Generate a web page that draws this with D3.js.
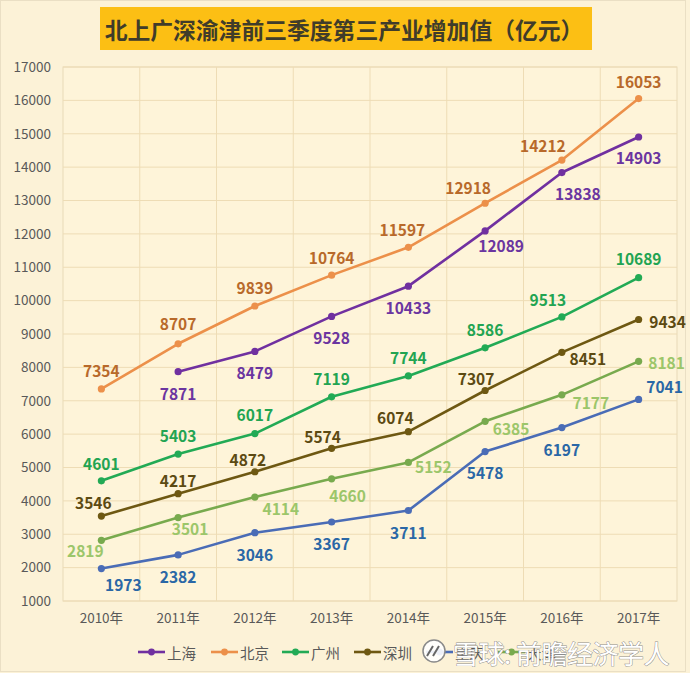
<!DOCTYPE html>
<html><head><meta charset="utf-8">
<script src="https://cdn.jsdelivr.net/npm/d3@7"></script>
<style>
html,body{margin:0;padding:0;background:#fcf2d7;}
svg{display:block;font-family:"Noto Sans CJK SC","Noto Sans",sans-serif;}
</style></head>
<body>
<svg id="c" width="690" height="673"></svg>
<script>
const title = "北上广深渝津前三季度第三产业增加值（亿元）";
const years = ["2010年","2011年","2012年","2013年","2014年","2015年","2016年","2017年"];
const yTicks = [1000,2000,3000,4000,5000,6000,7000,8000,9000,10000,11000,12000,13000,14000,15000,16000,17000];
const seriesNames = ["上海","北京","广州","深圳","重庆","天津"];
const shanghai  = [null, 7871, 8479, 9528, 10433, 12089, 13838, 14903];
const beijing   = [7354, 8707, 9839, 10764, 11597, 12918, 14212, 16053];
const guangzhou = [4601, 5403, 6017, 7119, 7744, 8586, 9513, 10689];
const shenzhen  = [3546, 4217, 4872, 5574, 6074, 7307, 8451, 9434];
const chongqing = [1973, 2382, 3046, 3367, 3711, 5478, 6197, 7041];
const tianjin   = [2819, 3501, 4114, 4660, 5152, 6385, 7177, 8181];
const watermark = "雪球: 前瞻经济学人";

// styling (not data)
const style = {
  "上海": {line:"#7030a0", label:"#6b35a0", off:[null,[0,21],[0,21],[0,21],[0,21],[16,14],[16,20],[0,20]]},
  "北京": {line:"#ec904a", label:"#b8692a", off:[[0,-19],[0,-21],[0,-19],[0,-18],[-6,-18],[-17,-16],[-19,-15],[0,-18]]},
  "广州": {line:"#22aa55", label:"#22a452", off:[[0,-18],[0,-19],[0,-20],[0,-19],[0,-19],[0,-19],[-14,-18],[0,-20]]},
  "深圳": {line:"#6e5812", label:"#5c4a12", off:[[-8,-14],[0,-14],[-7,-13],[-9,-12],[-13,-15],[-9,-13],[26,6],[29,1]]},
  "重庆": {line:"#4a6cb6", label:"#2a67a6", off:[[22,15],[0,21],[0,21],[0,21],[0,21],[0,20],[0,21],[26,-13]]},
  "天津": {line:"#78aa4e", label:"#9cc66a", off:[[-16,10],[12,10],[26,11],[16,16],[25,4],[26,7],[29,7],[28,1]]}
};
const dataMap = {"上海":shanghai,"北京":beijing,"广州":guangzhou,"深圳":shenzhen,"重庆":chongqing,"天津":tianjin};
const drawOrder = ["天津","重庆","深圳","广州","上海","北京"];

const svg = d3.select("#c");
const W=690,H=673;
svg.append("rect").attr("x",0.5).attr("y",0.5).attr("width",W-5).attr("height",H-2)
  .attr("fill","#fcf2d7").attr("stroke","#eadfc4");

const plot = {l:63, r:677, t:67, b:601};
const x = d3.scaleBand().domain(years).range([plot.l, plot.r]);
const y = d3.scaleLinear().domain([1000,17000]).range([plot.b, plot.t]);

svg.append("rect").attr("x",plot.l).attr("y",plot.t).attr("width",plot.r-plot.l).attr("height",plot.b-plot.t)
  .attr("fill","#fef4d9").attr("stroke","#e8d9b8");

// gridlines
svg.append("g").selectAll("line").data(yTicks).join("line")
  .attr("x1",plot.l).attr("x2",plot.r).attr("y1",d=>y(d)).attr("y2",d=>y(d))
  .attr("stroke","#eedcb5").attr("stroke-width",1);
svg.append("g").selectAll("line").data(years.slice(1)).join("line")
  .attr("x1",d=>x(d)).attr("x2",d=>x(d)).attr("y1",plot.t).attr("y2",plot.b)
  .attr("stroke","#eedcb5").attr("stroke-width",1);

// axes
const ya = svg.append("g").attr("transform",`translate(${plot.l},0)`)
  .call(d3.axisLeft(y).tickValues(yTicks).tickSize(0).tickPadding(12).tickFormat(d3.format("d")));
ya.select(".domain").remove();
ya.selectAll("text").attr("fill","#595959").style("font-size","13.5px").style("font-family","Noto Sans CJK SC");

const xa = svg.append("g").attr("transform",`translate(0,${plot.b})`)
  .call(d3.axisBottom(x).tickSize(0).tickPadding(12));
xa.select(".domain").remove();
xa.selectAll("text").attr("fill","#595959").style("font-size","13.5px").style("font-family","Noto Sans CJK SC");

// lines
const line = d3.line().defined(d=>d.v!=null).x(d=>x(d.year)+x.bandwidth()/2).y(d=>y(d.v));
drawOrder.forEach(name=>{
  const vals = dataMap[name].map((v,i)=>({year:years[i], v, i}));
  const st = style[name];
  const g = svg.append("g");
  g.append("path").datum(vals).attr("d",line).attr("fill","none")
    .attr("stroke",st.line).attr("stroke-width",2.6).attr("stroke-linejoin","round");
  const pts = vals.filter(d=>d.v!=null);
  g.selectAll("circle").data(pts).join("circle")
    .attr("cx",d=>x(d.year)+x.bandwidth()/2).attr("cy",d=>y(d.v)).attr("r",3.6).attr("fill",st.line);
  g.selectAll("text").data(pts).join("text")
    .attr("x",d=>x(d.year)+x.bandwidth()/2+st.off[d.i][0])
    .attr("y",d=>y(d.v)+st.off[d.i][1])
    .attr("text-anchor","middle").attr("dominant-baseline","central")
    .attr("fill",st.label).style("font-size","15.5px").style("font-weight","bold")
    .text(d=>d.v);
});

// title
svg.append("rect").attr("x",100).attr("y",7).attr("width",492).attr("height",43).attr("fill","#fcbf14");
svg.append("text").attr("x",344).attr("y",29).attr("text-anchor","middle").attr("dominant-baseline","central")
  .attr("fill","#403c2a").style("font-size","22.8px").style("font-weight","bold").text(title);

// legend
const legX = [138,211,282,354,426,498];
const lg = svg.append("g").attr("transform","translate(0,652)");
seriesNames.forEach((n,i)=>{
  const gx = legX[i];
  lg.append("line").attr("x1",gx).attr("x2",gx+27).attr("y1",0).attr("y2",0)
    .attr("stroke",style[n].line).attr("stroke-width",2.6);
  lg.append("circle").attr("cx",gx+13.5).attr("cy",0).attr("r",3.4).attr("fill",style[n].line);
  lg.append("text").attr("x",gx+29).attr("y",0).attr("dominant-baseline","central")
    .attr("fill","#595959").style("font-size","14.5px").text(n);
});

// watermark
const wm = svg.append("g");
wm.append("circle").attr("cx",434).attr("cy",651).attr("r",11).attr("fill","rgba(255,255,255,0.9)")
  .attr("stroke","#8a8a8a").attr("stroke-width",1.5);
wm.append("path").attr("d","M427,656 L433,646 M433,656 L439,646").attr("stroke","#666").attr("stroke-width",2).attr("fill","none");
wm.append("text").attr("x",453).attr("y",652).attr("dominant-baseline","central")
  .attr("fill","#ffffff").attr("stroke","#8c8c8c").attr("stroke-width",0.9).attr("paint-order","stroke")
  .style("font-size","26px").style("letter-spacing","-0.5px").text(watermark);
</script>
</body></html>
